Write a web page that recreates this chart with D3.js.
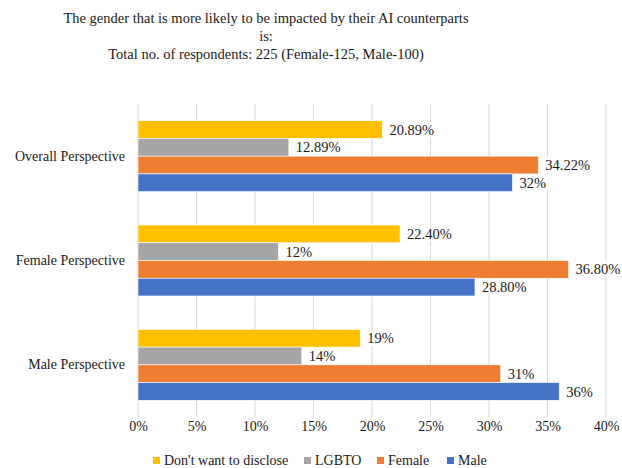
<!DOCTYPE html>
<html>
<head>
<meta charset="utf-8">
<script src="https://cdn.jsdelivr.net/npm/d3@7"></script>
<style>
  html, body { margin: 0; padding: 0; background: #fff; }
  svg { display: block; font-family: "Liberation Serif", "Times New Roman", serif; }
</style>
</head>
<body>
<svg id="chart" width="622" height="468"></svg>
<script>
// Survey perspectives (y categories, top to bottom)
const categories = ["Overall Perspective", "Female Perspective", "Male Perspective"];
// Series in drawing order within each group (top to bottom)
const seriesNames = ["Don't want to disclose", "LGBTO", "Female", "Male"];
const seriesColors = ["#FFC000", "#A5A5A5", "#ED7D31", "#4472C4"];
// Percent values per series, one per category
const dontDisclose = [20.89, 22.40, 19];
const lgbto = [12.89, 12, 14];
const female = [34.22, 36.80, 31];
const male = [32, 28.80, 36];
// Label strings as printed next to each bar
const dontDiscloseLabels = ["20.89%", "22.40%", "19%"];
const lgbtoLabels = ["12.89%", "12%", "14%"];
const femaleLabels = ["34.22%", "36.80%", "31%"];
const maleLabels = ["32%", "28.80%", "36%"];
const xTicks = [0, 5, 10, 15, 20, 25, 30, 35, 40];
const titleLines = [
  "The gender that is more likely to be impacted by their AI counterparts",
  "is:",
  "Total no. of respondents: 225 (Female-125, Male-100)"
];

const seriesValues = [dontDisclose, lgbto, female, male];
const seriesLabels = [dontDiscloseLabels, lgbtoLabels, femaleLabels, maleLabels];

const FONT = "Liberation Serif, Times New Roman, serif";
const INK = "#1a1a1a";

const svg = d3.select("#chart");
const margin = { left: 138, right: 16, top: 104, bottom: 51 };
const W = 622, H = 468;

const x = d3.scaleLinear().domain([0, 40]).range([margin.left, W - margin.right]);
const y = d3.scaleBand().domain(categories)
  .range([margin.top, H - margin.bottom])
  .paddingInner(0.32).paddingOuter(0.16);
const ySub = d3.scaleBand().domain(d3.range(seriesNames.length))
  .range([0, y.bandwidth()]);

// Title
svg.append("g").selectAll("text").data(titleLines).join("text")
  .attr("x", 266)
  .attr("y", (d, i) => 23 + i * 18)
  .attr("text-anchor", "middle")
  .attr("font-size", 14.5)
  .attr("fill", INK)
  .text(d => d);

// Vertical gridlines
svg.append("g").selectAll("line").data(xTicks).join("line")
  .attr("x1", d => x(d)).attr("x2", d => x(d))
  .attr("y1", margin.top).attr("y2", H - margin.bottom)
  .attr("stroke", "#D9D9D9").attr("stroke-width", 1);

// X axis tick labels
const xAxis = d3.axisBottom(x).tickValues(xTicks).tickSize(0).tickPadding(0)
  .tickFormat(d => d + "%");
svg.append("g")
  .attr("transform", `translate(0,${H - margin.bottom})`)
  .call(xAxis)
  .call(g => g.select(".domain").remove())
  .call(g => g.selectAll("text")
    .attr("dy", "0.35em").attr("y", 9)
    .attr("font-family", FONT)
    .attr("font-size", 14).attr("fill", INK));

// Category labels
const yAxis = d3.axisLeft(y).tickSize(0).tickPadding(13);
svg.append("g")
  .attr("transform", `translate(${margin.left},0)`)
  .call(yAxis)
  .call(g => g.select(".domain").remove())
  .call(g => g.selectAll("text")
    .attr("font-family", FONT)
    .attr("font-size", 14).attr("fill", INK));

// Bars and value labels
const groups = svg.append("g").selectAll("g").data(categories).join("g")
  .attr("transform", c => `translate(0,${y(c)})`);

seriesNames.forEach((s, si) => {
  groups.append("rect")
    .attr("x", x(0))
    .attr("y", ySub(si))
    .attr("width", (c, ci) => x(seriesValues[si][ci]) - x(0))
    .attr("height", ySub.bandwidth())
    .attr("fill", seriesColors[si])
    .attr("stroke", "#fff").attr("stroke-width", 0.6);
});

seriesNames.forEach((s, si) => {
  const lab = groups.append("g")
    .attr("transform", (c, ci) => `translate(${x(seriesValues[si][ci]) + 7},${ySub(si) + ySub.bandwidth() / 2})`);
  lab.append("text")
    .attr("dy", "0.35em")
    .attr("font-size", 14.5)
    .attr("fill", INK)
    .text((c, ci) => seriesLabels[si][ci]);
  lab.each(function () {
    const b = d3.select(this).select("text").node().getBBox();
    d3.select(this).insert("rect", "text")
      .attr("x", b.x - 2).attr("y", b.y)
      .attr("width", b.width + 4).attr("height", b.height)
      .attr("fill", "#fff");
  });
});

// Legend
const legendX = [153, 304, 377, 447];
const legend = svg.append("g").selectAll("g").data(seriesNames).join("g")
  .attr("transform", (d, i) => `translate(${legendX[i]},460)`);
legend.append("rect")
  .attr("x", 0).attr("y", -3).attr("width", 7).attr("height", 7)
  .attr("fill", (d, i) => seriesColors[i]);
legend.append("text")
  .attr("x", 11).attr("dy", "0.35em")
  .attr("font-size", 14).attr("fill", INK)
  .text(d => d);
</script>
</body>
</html>
